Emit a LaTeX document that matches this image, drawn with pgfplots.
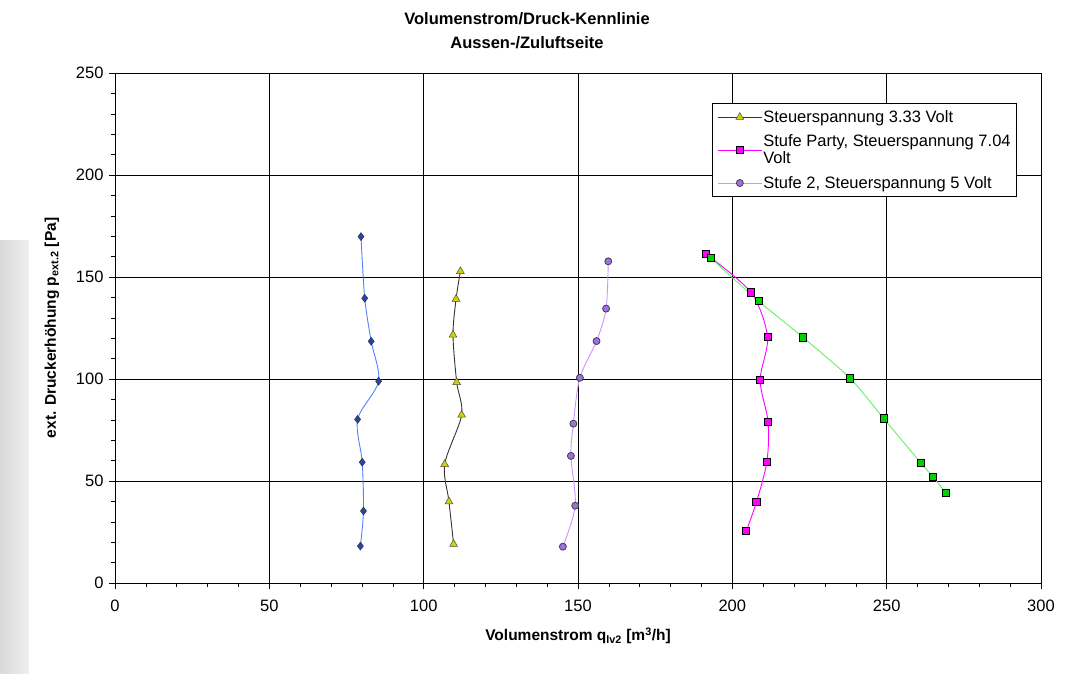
\documentclass[border=0pt]{standalone}
\usepackage{pgfplots}
\pgfplotsset{compat=1.18}
\usepackage{fontspec}
\setmainfont{Liberation Sans}
\definecolor{lineblue}{RGB}{80,130,255}
\definecolor{markblue}{RGB}{40,70,170}
\definecolor{markyellow}{RGB}{210,210,0}
\definecolor{lilac}{RGB}{200,150,255}
\definecolor{markpurple}{RGB}{160,110,230}
\definecolor{lgreen}{RGB}{100,240,100}
\definecolor{mgreen}{RGB}{0,210,0}
\definecolor{pmagenta}{RGB}{255,0,255}
\begin{document}
\begin{tikzpicture}
\path[use as bounding box] (-115pt,-90pt) rectangle (952pt,583pt);
% scan artefact at the left edge
\shade[left color=gray!30, right color=gray!12] (-115pt,-90pt) rectangle (-86pt,343pt);
\begin{axis}[
  scale only axis, width=926pt, height=510pt,
  xmin=0, xmax=300, ymin=0, ymax=250,
  xtick={0,50,...,300}, ytick={0,50,...,250},
  minor x tick num=4, minor y tick num=4,
  xtick pos=bottom, ytick pos=left,
  grid=major, major grid style={black, line width=0.8pt},
  axis line style={black, line width=0.8pt},
  tick style={black, line width=0.6pt},
  major tick length=6pt, minor tick length=4pt,
  tick align=outside,
  minor tick style={/pgfplots/tick align=inside},
  ticklabel style={font=\fontsize{16.5}{18}\selectfont},
  /pgf/number format/assume math mode=true,
  xticklabel style={yshift=-7pt},
  yticklabel style={xshift=-2pt},
  xlabel={\bfseries Volumenstrom q\textsubscript{lv2} [m\textsuperscript{3}/h]},
  ylabel={\bfseries ext. Druckerhöhung p\textsubscript{ext.2} [Pa]},
  label style={font=\fontsize{15.5}{18}\selectfont},
  xlabel style={yshift=-10pt},
  ylabel style={yshift=10pt},
  legend style={at={(axis cs:193.4,235.3)}, anchor=north west,
    draw=black, line width=0.8pt, inner xsep=5pt, inner ysep=6pt,
    font=\fontsize{16.5}{17}\selectfont, row sep=9pt,
    nodes={align=left, inner sep=1pt}},
  legend cell align=left,
  legend image code/.code={
    \draw[mark repeat=2,mark phase=2] plot coordinates {(0pt,0pt) (22pt,0pt) (44pt,0pt)};},
]
% blue diamonds (not in legend)
\addplot[lineblue, line width=0.9pt, smooth, tension=0.5, mark=diamond*,
  mark size=4pt, mark options={fill=markblue, draw=black!80, line width=0.5pt},
  forget plot] coordinates {
  (79.7,169.8) (80.9,139.6) (83.0,118.5) (85.4,98.9)
  (78.6,80.2) (80.1,59.2) (80.5,35.3) (79.5,18.1)};
% triangles
\addplot[black!80, line width=0.9pt, smooth, tension=0.5, mark=triangle*,
  mark size=4.5pt, mark options={fill=markyellow, draw=black!70, line width=0.5pt}]
  coordinates {
  (111.9,152.8) (110.5,139.2) (109.5,121.6) (110.7,98.4)
  (112.3,82.4) (106.8,58.2) (108.2,39.9) (109.7,19.1)};
\addlegendentry{Steuerspannung 3.33 Volt}
% magenta squares
\addplot[pmagenta, line width=0.9pt, smooth, tension=0.5, mark=square*,
  mark size=3.6pt, mark options={fill=pmagenta, draw=black, line width=0.8pt}]
  coordinates {
  (191.4,161.3) (206.0,142.5) (211.4,120.6) (209.0,99.4)
  (211.6,78.9) (211.2,59.5) (207.8,39.6) (204.5,25.5)};
\addlegendentry{Stufe Party, Steuerspannung 7.04\\Volt}
% purple circles
\addplot[lilac, line width=0.9pt, smooth, tension=0.5, mark=*,
  mark size=3.5pt, mark options={fill=markpurple, draw=black!75, line width=0.8pt}]
  coordinates {
  (159.8,157.7) (159.1,134.5) (156.0,118.6) (150.6,100.6)
  (148.5,78.1) (147.7,62.3) (149.1,37.9) (145.1,17.8)};
\addlegendentry{Stufe 2, Steuerspannung 5 Volt}
% green squares (not in legend)
\addplot[lgreen, line width=0.9pt, smooth, tension=0.4, mark=square*,
  mark size=3.6pt, mark options={fill=mgreen, draw=black, line width=0.8pt},
  forget plot] coordinates {
  (193.0,159.3) (208.5,138.2) (222.9,120.4) (238.2,100.3)
  (249.0,80.7) (261.0,59.0) (265.0,52.0) (269.3,44.0)};
\end{axis}
\node[font=\fontsize{16.5}{24}\selectfont\bfseries, align=center, anchor=north]
  at (412pt,574pt) {Volumenstrom/Druck-Kennlinie\\Aussen-/Zuluftseite};
\end{tikzpicture}
\end{document}
